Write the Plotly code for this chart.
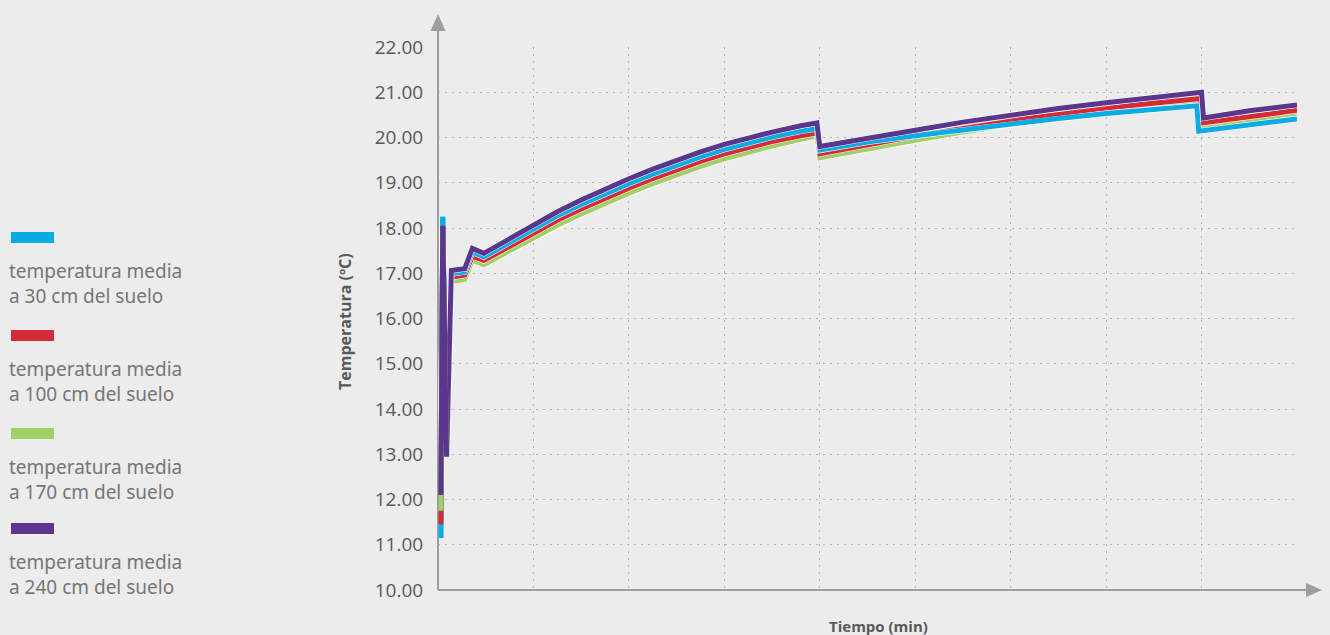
import plotly.graph_objects as go

# ---------------- data ----------------
# Tiempo (min) for each series (the second drop happens at slightly different times)
tiempo_base = [3, 5, 9, 14, 28, 36, 48, 75, 100, 125, 150, 175, 200, 225, 250, 275, 300,
               325, 350, 380, 397, 400, 450, 500, 550, 600, 650, 700, 750]
tiempo_30 = tiempo_base + [795, 797, 850, 900]
tiempo_100 = tiempo_base + [799, 801, 850, 900]
tiempo_170 = tiempo_base + [796, 798, 850, 900]
tiempo_240 = tiempo_base + [800, 802, 850, 900]

temp_30 = [11.15, 18.25, 12.95, 16.99, 17.03, 17.47, 17.36, 17.68, 17.99, 18.27, 18.52,
           18.76, 18.98, 19.19, 19.39, 19.57, 19.74, 19.88, 20.01, 20.14, 20.20, 19.72,
           19.90, 20.04, 20.17, 20.28, 20.42, 20.53, 20.62, 20.70, 20.14, 20.29, 20.41]
temp_100 = [11.45, 18.00, 12.95, 16.91, 16.96, 17.38, 17.28, 17.59, 17.90, 18.17, 18.42,
            18.66, 18.88, 19.09, 19.29, 19.47, 19.64, 19.78, 19.91, 20.04, 20.10, 19.64,
            19.84, 20.03, 20.20, 20.37, 20.52, 20.65, 20.76, 20.86, 20.32, 20.47, 20.60]
temp_170 = [11.75, 17.95, 12.95, 16.82, 16.86, 17.29, 17.19, 17.49, 17.79, 18.06, 18.31,
            18.55, 18.77, 18.98, 19.18, 19.36, 19.53, 19.68, 19.81, 19.96, 20.03, 19.55,
            19.75, 19.94, 20.12, 20.30, 20.46, 20.60, 20.70, 20.79, 20.23, 20.40, 20.54]
temp_240 = [12.10, 18.05, 12.95, 17.06, 17.10, 17.55, 17.44, 17.77, 18.08, 18.36, 18.62,
            18.87, 19.09, 19.30, 19.50, 19.68, 19.85, 19.99, 20.12, 20.26, 20.32, 19.80,
            19.99, 20.16, 20.34, 20.50, 20.64, 20.77, 20.89, 21.00, 20.43, 20.59, 20.72]

series_names = ["temperatura media<br>a 30 cm del suelo",
                "temperatura media<br>a 100 cm del suelo",
                "temperatura media<br>a 170 cm del suelo",
                "temperatura media<br>a 240 cm del suelo"]
series_colors = ["#0cabe4", "#d52b36", "#a0cf67", "#5a378c"]
series_x = [tiempo_30, tiempo_100, tiempo_170, tiempo_240]
series_y = [temp_30, temp_100, temp_170, temp_240]
draw_order = [2, 1, 0, 3]        # main curves: green, red, cyan, purple (purple on top)
spike_order = [0, 1, 2, 3]       # initial spike: cyan, red, green, purple
N_SPIKE = 3                      # first points forming the initial spike

y_ticks = list(range(10, 23))
x_grid = list(range(0, 1000, 100))

# ---------------- layout geometry ----------------
OFF = 8  # page margin of the browser body
W, H = 1330 - OFF, 635 - OFF
L, R, T, B = 438 - OFF, 33, 47 - OFF, 45
PW, PH = W - L - R, H - T - B


def xp(px):
    return (px - OFF - L) / PW


def yp(py):
    return (H - B - (py - OFF)) / PH


BG = "#ebeceb"
AX = "#9d9ea0"
TXT = "#58595b"

fig = go.Figure()
for i in draw_order:
    xs, ys, c, n = series_x[i], series_y[i], series_colors[i], series_names[i]
    fig.add_trace(go.Scatter(x=xs, y=ys, mode="lines", line=dict(color="white", width=6),
                             hoverinfo="skip", showlegend=False))
    fig.add_trace(go.Scatter(x=xs, y=ys, mode="lines", line=dict(color=c, width=5),
                             name=n.replace("<br>", " "), showlegend=False))
for i in spike_order:
    fig.add_trace(go.Scatter(x=series_x[i][:N_SPIKE], y=series_y[i][:N_SPIKE], mode="lines",
                             line=dict(color=series_colors[i], width=5),
                             hoverinfo="skip", showlegend=False))

shapes = []
# axes with arrows
shapes.append(dict(type="line", xref="paper", yref="paper", x0=0, x1=0, y0=0, y1=yp(30),
                   line=dict(color=AX, width=2), layer="below"))
shapes.append(dict(type="path", xref="paper", yref="paper",
                   path=f"M {xp(430.5)},{yp(31)} L {xp(445.5)},{yp(31)} L {xp(438)},{yp(14)} Z",
                   fillcolor=AX, line=dict(width=0)))
shapes.append(dict(type="line", xref="paper", yref="paper", x0=0, x1=xp(1308), y0=0, y1=0,
                   line=dict(color=AX, width=2), layer="below"))
shapes.append(dict(type="path", xref="paper", yref="paper",
                   path=f"M {xp(1306)},{yp(583)} L {xp(1306)},{yp(597)} L {xp(1322)},{yp(590)} Z",
                   fillcolor=AX, line=dict(width=0)))

annotations = []
# legend (custom: colour bar above the two-line label)
leg_rect_top = [232, 330, 428, 523]
for top, c, n in zip(leg_rect_top, series_colors, series_names):
    shapes.append(dict(type="rect", xref="paper", yref="paper",
                       x0=xp(11), x1=xp(54), y0=yp(top + 11), y1=yp(top),
                       fillcolor=c, line=dict(width=0)))
    annotations.append(dict(xref="paper", yref="paper", x=xp(7), y=yp(top + 51),
                            xanchor="left", yanchor="middle", align="left",
                            text=n, showarrow=False,
                            font=dict(family="Noto Sans", size=19, color="#767676")))

annotations.append(dict(xref="paper", yref="paper", x=xp(345), y=yp(322), textangle=-90,
                        text="<b>Temperatura (ºC)</b>", showarrow=False,
                        xanchor="center", yanchor="middle",
                        font=dict(family="Open Sans", size=16, color=TXT)))
annotations.append(dict(xref="paper", yref="paper", x=xp(878), y=yp(626),
                        text="<b>Tiempo (min)</b>", showarrow=False,
                        xanchor="center", yanchor="middle",
                        font=dict(family="Open Sans", size=15, color=TXT)))

fig.update_layout(
    width=W, height=H,
    margin=dict(l=L, r=R, t=T, b=B, pad=0),
    paper_bgcolor=BG, plot_bgcolor=BG,
    showlegend=False,
    shapes=shapes, annotations=annotations,
    xaxis=dict(range=[0, 900], tickvals=x_grid, showticklabels=False, ticks="",
               showgrid=True, gridcolor="#b4b5b6", gridwidth=1, griddash="2px,5px",
               zeroline=False, showline=False, fixedrange=True),
    yaxis=dict(range=[10, 22], tickvals=y_ticks, tickformat=".2f",
               ticks="outside", ticklen=10, tickcolor="rgba(0,0,0,0)",
               tickfont=dict(family="Open Sans", size=19, color=TXT),
               showgrid=True, gridcolor="#b4b5b6", gridwidth=1, griddash="2px,5px",
               zeroline=False, showline=False, fixedrange=True),
)

fig.write_html(
    "out.html",
    post_script="document.body.style.background='#ebeceb';"
                "document.documentElement.style.background='#ebeceb';",
)
